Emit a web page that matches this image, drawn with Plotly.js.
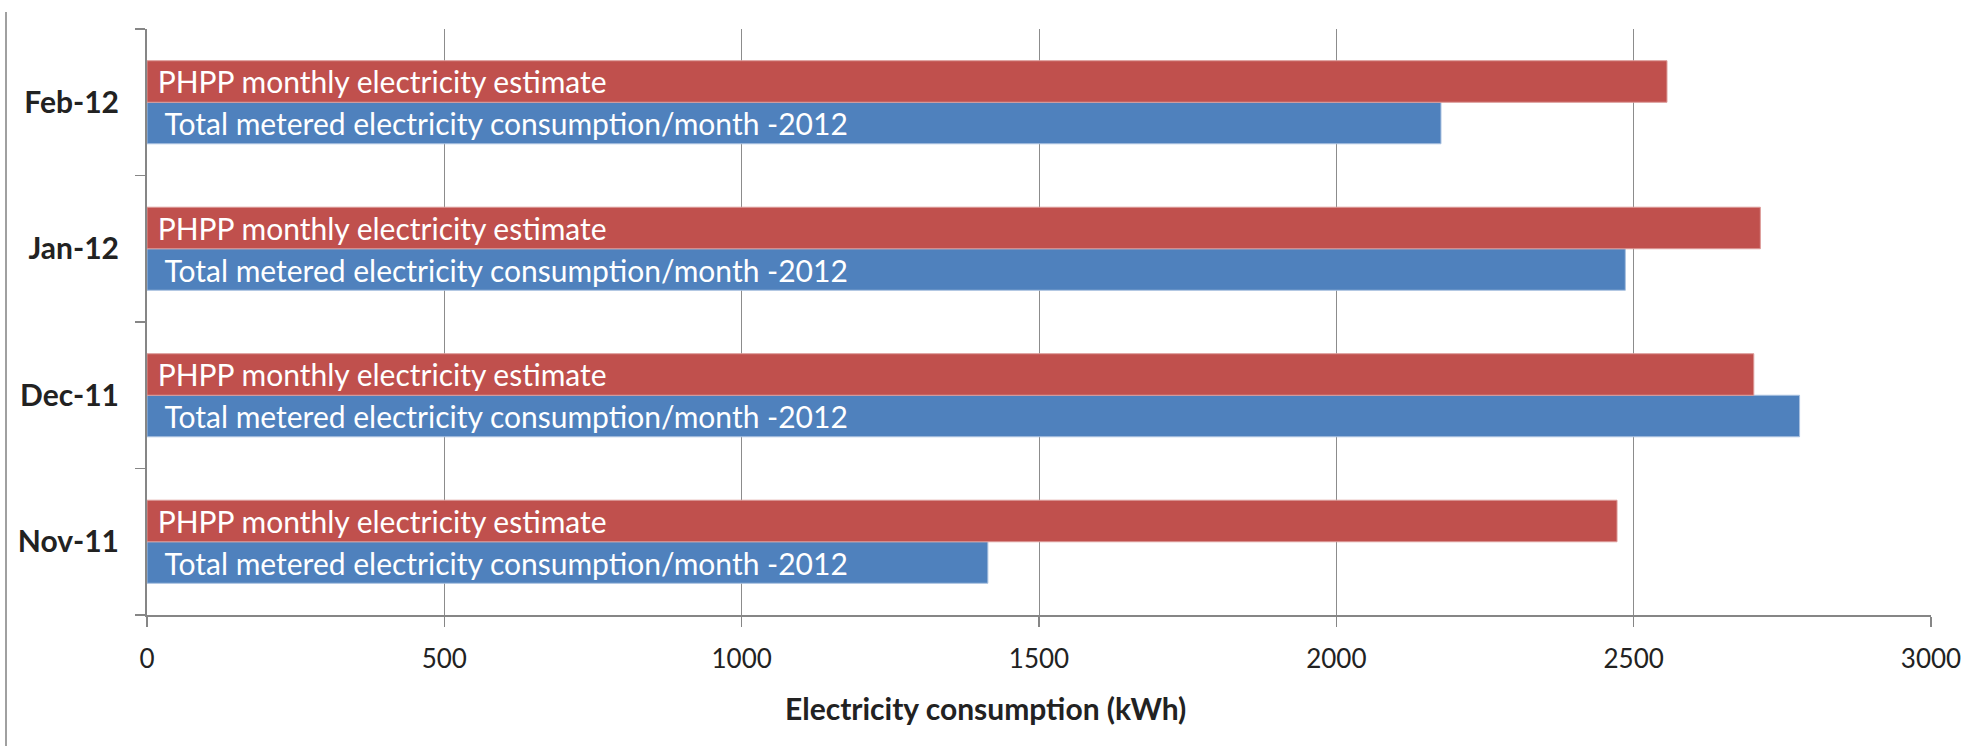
<!DOCTYPE html>
<html>
<head>
<meta charset="utf-8">
<script src="https://cdn.plot.ly/plotly-3.0.1.min.js"></script>
<style>
  html, body { margin: 0; padding: 0; background: #fff; }
  #wrap { position: relative; width: 1973px; height: 746px; }
  #chart { width: 1973px; height: 746px; }
  #edge { position: absolute; left: 5px; top: 12px; width: 2px; height: 734px; background: #a0a0a0; }
</style>
</head>
<body>
<div id="wrap">
  <div id="chart"></div>
  <div id="edge"></div>
</div>
<script>
// Data (bottom to top on the category axis)
const months = ['Nov-11', 'Dec-11', 'Jan-12', 'Feb-12'];
const meteredName = 'Total metered electricity consumption/month -2012';
const estimateName = 'PHPP monthly electricity estimate';
const meteredValues = [1414, 2779, 2486, 2176];
const estimateValues = [2472, 2702, 2713, 2556];
const xTickValues = [0, 500, 1000, 1500, 2000, 2500, 3000];
const xTitle = 'Electricity consumption (kWh)';

const FONT = 'Lato, "Open Sans", "DejaVu Sans", sans-serif';

const traces = [
  {
    type: 'bar', orientation: 'h', name: meteredName,
    y: months, x: meteredValues,
    text: months.map(() => meteredName),
    texttemplate: '\u00a0\u00a0%{text}',
    textposition: 'inside', insidetextanchor: 'start',
    textfont: { family: FONT, size: 30, color: '#ffffff' },
    textangle: 0,
    constraintext: 'none',
    marker: { color: '#4F81BD', line: { color: '#a9c1e0', width: 1 } },
    hoverinfo: 'x+y'
  },
  {
    type: 'bar', orientation: 'h', name: estimateName,
    y: months, x: estimateValues,
    text: months.map(() => estimateName),
    texttemplate: '\u00a0%{text}',
    textposition: 'inside', insidetextanchor: 'start',
    textfont: { family: FONT, size: 30, color: '#ffffff' },
    textangle: 0,
    constraintext: 'none',
    marker: { color: '#C0504D', line: { color: '#dc9a98', width: 1 } },
    hoverinfo: 'x+y'
  }
];

const layout = {
  width: 1973, height: 746,
  margin: { l: 147, r: 42, t: 29, b: 131 },
  paper_bgcolor: '#ffffff', plot_bgcolor: '#ffffff',
  showlegend: false,
  barmode: 'group',
  bargap: 0.433, bargroupgap: 0,
  font: { family: FONT, color: '#222222' },
  xaxis: {
    range: [0, 3000],
    tickvals: xTickValues,
    ticktext: xTickValues.map(String),
    tickfont: { family: FONT, size: 26, color: '#222222' },
    showgrid: true, gridcolor: '#8c8c8c', gridwidth: 1,
    zeroline: false,
    showline: true, linecolor: '#868686', linewidth: 2,
    ticks: 'outside', ticklen: 10, tickcolor: '#868686', tickwidth: 1.5,
    ticklabelstandoff: 10,
    fixedrange: true
  },
  yaxis: {
    type: 'category',
    categoryorder: 'array', categoryarray: months,
    tickfont: { family: FONT, size: 30, color: '#222222', weight: 'bold' },
    showgrid: false, zeroline: false,
    showline: true, linecolor: '#868686', linewidth: 2,
    ticks: 'outside', ticklen: 10, tickcolor: '#868686', tickwidth: 1.5,
    tickson: 'boundaries',
    ticklabelstandoff: 20,
    fixedrange: true
  },
  annotations: [
    {
      text: '<b>' + xTitle + '</b>',
      xref: 'paper', yref: 'paper',
      x: (985 - 147) / 1784, y: (615 - 708) / 586,
      xanchor: 'center', yanchor: 'middle',
      showarrow: false,
      font: { family: FONT, size: 30, color: '#222222' }
    }
  ]
};

Plotly.newPlot('chart', traces, layout, { displayModeBar: false, staticPlot: true });
</script>
</body>
</html>
